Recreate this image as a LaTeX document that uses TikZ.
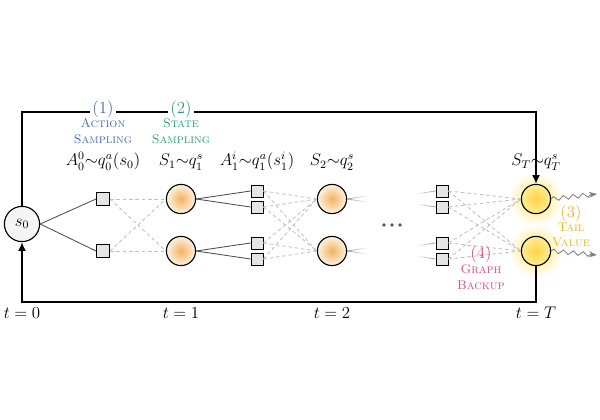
\documentclass[tikz,border=0pt]{standalone}
\usetikzlibrary{arrows.meta,decorations.pathmorphing,fadings}
\definecolor{azul}{RGB}{72,108,178}
\definecolor{verde}{RGB}{38,158,118}
\definecolor{naranja}{RGB}{242,178,40}
\definecolor{rosa}{RGB}{226,70,128}
\definecolor{estadoc}{RGB}{244,178,96}
\definecolor{estadob}{RGB}{253,243,226}
\definecolor{hojac}{RGB}{252,212,70}
\definecolor{hojab}{RGB}{254,236,150}
\definecolor{brillo}{RGB}{255,228,100}
\begin{document}
\begin{tikzpicture}[x=0.025cm, y=-0.025cm,
  raiz/.style={draw=black, thick, circle, minimum size=8.8mm, inner sep=0pt, fill=black!4, font=\large},
  estado/.style={draw=black, thick, circle, minimum size=7.3mm, inner sep=0pt, inner color=estadoc, outer color=estadob},
  hoja/.style={estado, inner color=hojac, outer color=hojab},
  accion/.style={draw=black, semithick, rectangle, minimum size=3.3mm, inner sep=0pt, fill=black!10},
  rama/.style={draw=black!70, semithick},
  muestra/.style={draw=black!25, semithick, dash pattern=on 2.5pt off 2pt},
  tenue/.style={draw=black!40, semithick},
  marco/.style={draw=black, line width=1pt, -{Latex[length=2.2mm,width=2mm]}},
  cola/.style={draw=black!50, semithick, decorate, decoration={zigzag, amplitude=1.5pt, segment length=7pt, post length=4pt}, -{Stealth[length=2mm]}},
  formula/.style={anchor=base, font=\large},
  paso/.style={font=\large, inner sep=1.5pt},
  etapa/.style={font=\small\scshape, align=center, inner sep=0pt}
]
\useasboundingbox (0,0) rectangle (600,420);
\coordinate (pTa) at (536,199);
\coordinate (pTb) at (536,251);
\foreach \p in {pTa,pTb}
  \shade[inner color=brillo, outer color=white] (\p) circle (0.68cm);

\node[raiz] (s0) at (22,224) {$s_0$};
\node[accion] (a0a) at (103,199) {};
\node[accion] (a0b) at (103,251) {};
\node[estado] (s1a) at (181,199) {};
\node[estado] (s1b) at (181,251) {};
\foreach \n/\y in {a1a/191,a1b/207,a1c/243,a1d/259}
  \node[accion, minimum size=3mm] (\n) at (257,\y) {};
\node[estado] (s2a) at (332,199) {};
\node[estado] (s2b) at (332,251) {};
\foreach \n/\y in {aTa/191,aTb/207,aTc/243,aTd/259}
  \node[accion, minimum size=3mm] (\n) at (442,\y) {};
\node[hoja] (sTa) at (pTa) {};
\node[hoja] (sTb) at (pTb) {};

\foreach \a in {a0a,a0b}
  \draw[rama] (s0.east) -- (\a.west);
\foreach \a in {a1a,a1b}
  \draw[rama] (s1a.east) -- (\a.west);
\foreach \a in {a1c,a1d}
  \draw[rama] (s1b.east) -- (\a.west);
\foreach \a in {a0a,a0b}
  \foreach \s in {s1a,s1b}
    \draw[muestra] (\a.east) -- (\s.west);
\foreach \a in {a1a,a1b,a1c,a1d}
  \foreach \s in {s2a,s2b}
    \draw[muestra] (\a.east) -- (\s.west);
\foreach \a in {aTa,aTb,aTc,aTd}
  \foreach \s in {sTa,sTb}
    \draw[muestra] (\a.east) -- (\s.west);

\foreach \s in {s2a,s2b} {
  \path (\s.east) ++(20,-3) coordinate (\s-u) ++(0,6) coordinate (\s-d);
  \draw[tenue, path fading=east] (\s.east) -- (\s-u);
  \draw[tenue, path fading=east] (\s.east) -- (\s-d);
}
\foreach \a/\d in {aTa/3,aTb/-3,aTc/3,aTd/-3} {
  \path (\a.west) ++(-20,\d) coordinate (\a-i);
  \draw[tenue, path fading=west] (\a-i) -- (\a.west);
}
\foreach \x in {384,392,400}
  \fill[black!65] (\x,225) circle (1.3pt);

\coordinate (colaA) at (597,194);
\coordinate (colaB) at (597,255);
\draw[cola] (sTa.east) -- (colaA);
\draw[cola] (sTb.east) -- (colaB);

\coordinate (arriba) at (22,112);
\coordinate (abajo) at (22,302);
\draw[marco] (s0.north) -- (arriba) -| (sTa.north);
\draw[marco] (sTb.south) |- (abajo) -- (s0.south);

\node[paso, text=azul, fill=white] (uno) at (103,109) {(1)};
\node[etapa, text=azul] (muestreoA) at (103,131) {Action\\[0pt]Sampling};
\node[paso, text=verde, fill=white] (dos) at (181,109) {(2)};
\node[etapa, text=verde] (muestreoS) at (181,131) {State\\[0pt]Sampling};
\node[paso, text=naranja] (tres) at (571,213) {(3)};
\node[etapa, text=naranja] (valor) at (571,235) {Tail\\[0pt]Value};
\node[paso, text=rosa] (cuatro) at (481,254) {(4)};
\node[etapa, text=rosa] (respaldo) at (481,277) {Graph\\[0pt]Backup};

\node[formula] (qa0) at (103,166) {$A_0^0{\sim}q_0^a(s_0)$};
\node[formula] (qs1) at (181,166) {$S_1{\sim}q_1^s$};
\node[formula] (qa1) at (257,166) {$A_1^i{\sim}q_1^a(s_1^i)$};
\node[formula] (qs2) at (332,166) {$S_2{\sim}q_2^s$};
\node[formula] (qsT) at (536,166) {$S_T{\sim}q_T^s$};

\node[formula] (t0) at (22,318) {$t=0$};
\node[formula] (t1) at (181,318) {$t=1$};
\node[formula] (t2) at (332,318) {$t=2$};
\node[formula] (tT) at (536,318) {$t=T$};
\end{tikzpicture}
\end{document}
